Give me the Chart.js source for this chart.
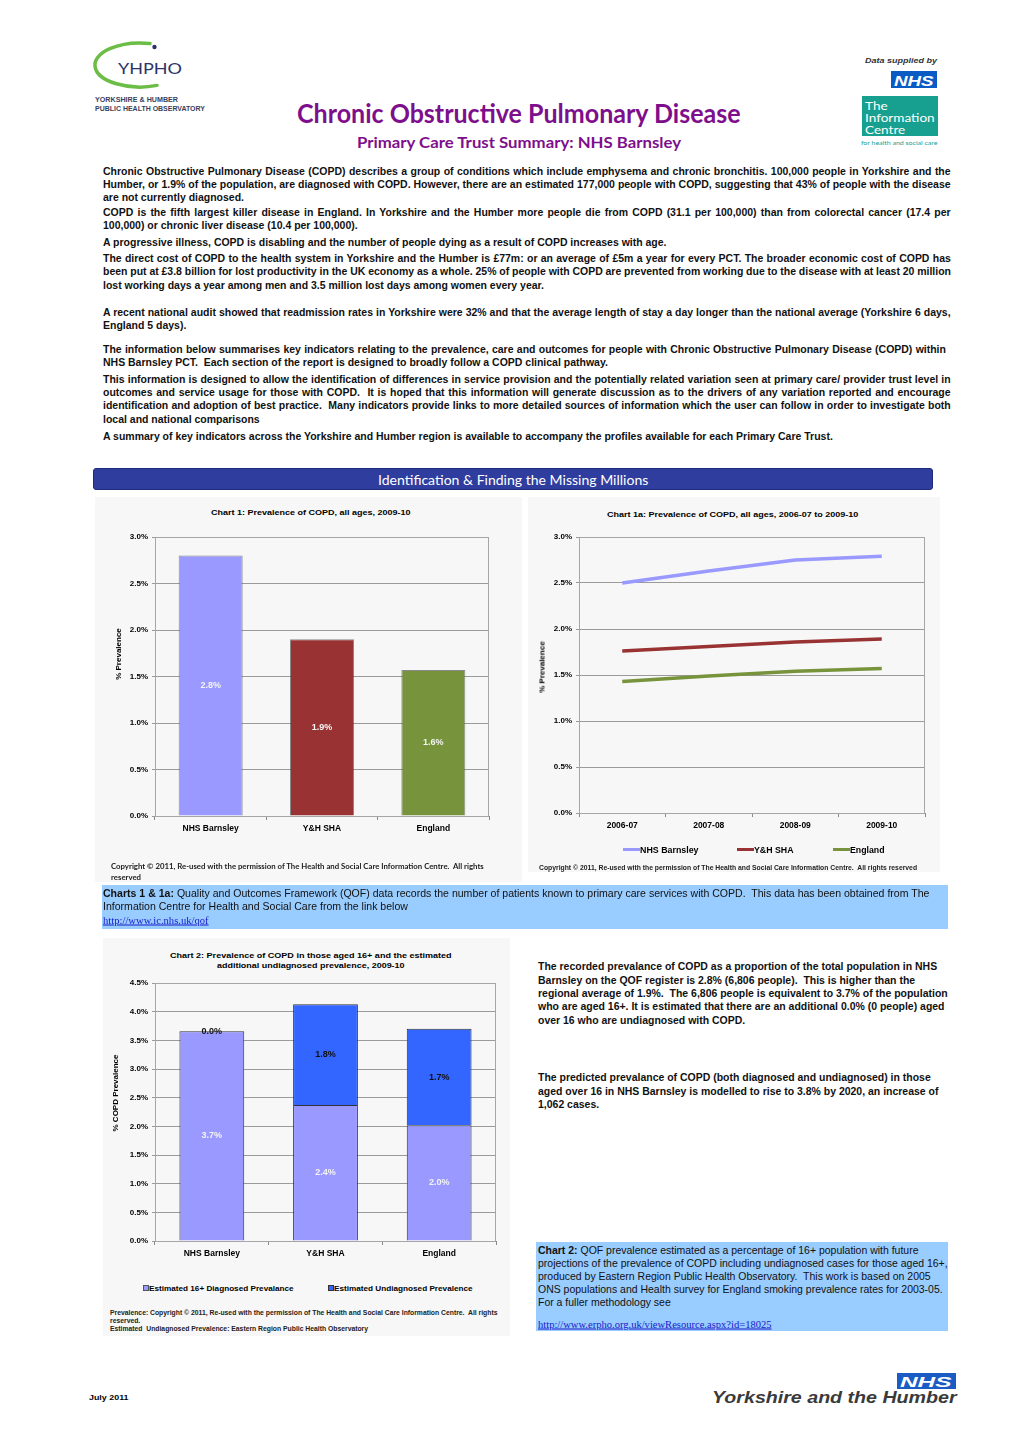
<!DOCTYPE html>
<html><head><meta charset="utf-8"><title>Chronic Obstructive Pulmonary Disease – NHS Barnsley</title>
<script src="https://cdn.jsdelivr.net/npm/chart.js@4.4.1/dist/chart.umd.min.js"></script>
<style>
html,body{margin:0;padding:0;background:#fff}
body{position:relative;width:1020px;height:1442px;overflow:hidden;font-family:"Liberation Sans",Arial,sans-serif;color:#000}
.t{position:absolute;white-space:pre;transform-origin:0 50%;line-height:1}
.r{position:absolute;white-space:pre;line-height:1;font:bold 8px "Liberation Sans",Arial,sans-serif;transform:translate(-50%,-50%) rotate(-90deg)}
.panel{position:absolute;background:#f7f7f7}
canvas{position:absolute}
.box{position:absolute;background:#99CCFF}
.lnk{color:#1a1aCC;text-decoration:underline;font-family:"Liberation Serif","Times New Roman",serif}
.sw{position:absolute}
</style></head><body>

<!-- YHPHO logo -->
<svg style="position:absolute;left:0;top:0" width="230" height="120">
  <path d="M150 43.6 A45 22 0 1 0 157 85.4" fill="none" stroke="#6cbd45" stroke-width="3.5" stroke-linecap="round"/>
  <circle cx="154.5" cy="47" r="2.2" fill="#2b2f6b"/>
  <text x="118" y="74" font-family="Lato, 'Open Sans', sans-serif" font-size="16" fill="#2b3468" textLength="64" lengthAdjust="spacingAndGlyphs">YHPHO</text>
  <text x="95" y="101.5" font-family="'Liberation Sans', Arial, sans-serif" font-weight="bold" font-size="6.3" fill="#3a3f5c" textLength="83" lengthAdjust="spacingAndGlyphs">YORKSHIRE &amp; HUMBER</text>
  <text x="95" y="110.5" font-family="'Liberation Sans', Arial, sans-serif" font-weight="bold" font-size="6.3" fill="#3a3f5c" textLength="110" lengthAdjust="spacingAndGlyphs">PUBLIC HEALTH OBSERVATORY</text>
</svg>

<!-- Information Centre logo -->
<div style="position:absolute;left:891px;top:71px;width:46px;height:17px;background:#0a5bc4"></div>
<div style="position:absolute;left:862px;top:96px;width:76px;height:40px;background:#17a08f"></div>

<!-- header bar -->
<div style="position:absolute;left:93px;top:468px;width:838px;height:20px;background:#2f3d9e;border:1px solid #1f2a78;border-radius:3px"></div>

<!-- chart panels -->
<div class="panel" style="left:95px;top:497px;width:427px;height:385px"></div>
<div class="panel" style="left:528px;top:497px;width:412px;height:375px"></div>
<div class="panel" style="left:103px;top:938px;width:407px;height:398px"></div>

<!-- blue note boxes -->
<div class="box" style="left:102px;top:885px;width:846px;height:44px"></div>
<div class="box" style="left:536px;top:1242px;width:412px;height:89px"></div>

<canvas id="c1" width="399" height="323" style="left:100px;top:527px"></canvas>
<canvas id="c1a" width="411" height="320" style="left:524px;top:527px"></canvas>
<canvas id="c2" width="410" height="302" style="left:96px;top:973px"></canvas>

<!-- axis titles -->
<div class="r" style="left:118px;top:654px">% Prevalence</div>
<div class="r" style="left:542px;top:667px">% Prevalence</div>
<div class="r" style="left:115px;top:1093px">% COPD Prevalence</div>

<!-- legend swatches -->
<div class="sw" style="left:623px;top:848px;width:17px;height:3px;background:#9999FF"></div>
<div class="sw" style="left:737px;top:848px;width:17px;height:3px;background:#993333"></div>
<div class="sw" style="left:833px;top:848px;width:17px;height:3px;background:#77933C"></div>
<div class="sw" style="left:143px;top:1285px;width:4px;height:4px;background:#9999FF;border:1px solid #555"></div>
<div class="sw" style="left:328px;top:1285px;width:4px;height:4px;background:#3366FF;border:1px solid #333"></div>

<!-- bottom NHS logo -->
<div style="position:absolute;left:897px;top:1373px;width:59px;height:16px;background:#1a5bc4"></div>

<script>
// ---------------- DATA ----------------
const chart1Categories = ['NHS Barnsley', 'Y&H SHA', 'England'];
const chart1Prevalence = [2.8, 1.9, 1.57];
const chart1Colours = ['#9999FF', '#993333', '#77933C'];

const chart1aYears = ['2006-07', '2007-08', '2008-09', '2009-10'];
const trendBarnsley = [2.50, 2.63, 2.75, 2.79];
const trendYH = [1.76, 1.81, 1.86, 1.89];
const trendEngland = [1.43, 1.49, 1.54, 1.57];
const trendNames = ['NHS Barnsley', 'Y&H SHA', 'England'];

const chart2Categories = ['NHS Barnsley', 'Y&H SHA', 'England'];
const chart2Diagnosed = [3.66, 2.37, 2.02];
const chart2Undiagnosed = [0.0, 1.76, 1.68];
const chart2Names = ['Estimated 16+ Diagnosed Prevalance', 'Estimated Undiagnosed Prevalence'];

const yMax1 = 3.0, yMax2 = 4.5, yStep = 0.5;

// ---------------- TEXT ----------------
const B = document.body;
function put(x, y, font, html, data, color) {
  const d = document.createElement('div');
  d.className = 't';
  d.style.left = x + 'px'; d.style.top = y + 'px'; d.style.font = font;
  if (color) d.style.color = color;
  d.innerHTML = html;
  if (data) for (const k in data) d.dataset[k] = data[k];
  B.appendChild(d);
  return d;
}
const LS = '"Liberation Sans", Arial, sans-serif';
const LATO = 'Lato, "Open Sans", sans-serif';
const PURPLE = '#7e0f8c';

// header
put(297, 112, 'bold 27px ' + LATO, 'Chronic Obstructive Pulmonary Disease', {w: 444}, PURPLE);
put(357, 141, 'bold 16px ' + LATO, 'Primary Care Trust Summary: NHS Barnsley', {w: 324}, PURPLE);
put(865, 60, 'bold italic 7px ' + LS, 'Data supplied by', {w: 72}, '#333');
put(894, 79.5, 'bold italic 15px ' + LS, 'NHS', {w: 40}, '#fff');
put(865, 105, '12px ' + LATO, 'The', {g: 'ic'}, '#fff');
put(865, 117, '12px ' + LATO, 'Information', {g: 'ic', ref: 70}, '#fff');
put(865, 128.5, '12px ' + LATO, 'Centre', {g: 'ic'}, '#fff');
put(861, 142, '6px ' + LATO, 'for health and social care', {w: 77}, '#17a08f');

// intro body text
const bodyLines = [
  [171, 'Chronic Obstructive Pulmonary Disease (COPD) describes a group of conditions which include emphysema and chronic bronchitis. 100,000 people in Yorkshire and the', 848],
  [184, 'Humber, or 1.9% of the population, are diagnosed with COPD. However, there are an estimated 177,000 people with COPD, suggesting that 43% of people with the disease', 848],
  [197, 'are not currently diagnosed.', 0],
  [212, 'COPD is the fifth largest killer disease in England. In Yorkshire and the Humber more people die from COPD (31.1 per 100,000) than from colorectal cancer (17.4 per', 848],
  [225, '100,000) or chronic liver disease (10.4 per 100,000).', 0],
  [242, 'A progressive illness, COPD is disabling and the number of people dying as a result of COPD increases with age.', 0],
  [258, 'The direct cost of COPD to the health system in Yorkshire and the Humber is £77m: or an average of £5m a year for every PCT. The broader economic cost of COPD has', 848],
  [271, 'been put at £3.8 billion for lost productivity in the UK economy as a whole. 25% of people with COPD are prevented from working due to the disease with at least 20 million', 848],
  [285, 'lost working days a year among men and 3.5 million lost days among women every year.', 0],
  [312, 'A recent national audit showed that readmission rates in Yorkshire were 32% and that the average length of stay a day longer than the national average (Yorkshire 6 days,', 848],
  [325, 'England 5 days).', 0],
  [349, 'The information below summarises key indicators relating to the prevalence, care and outcomes for people with Chronic Obstructive Pulmonary Disease (COPD) within', 843],
  [362, 'NHS Barnsley PCT.  Each section of the report is designed to broadly follow a COPD clinical pathway.', 0],
  [379, 'This information is designed to allow the identification of differences in service provision and the potentially related variation seen at primary care/ provider trust level in', 848],
  [392, 'outcomes and service usage for those with COPD.  It is hoped that this information will generate discussion as to the drivers of any variation reported and encourage', 848],
  [405, 'identification and adoption of best practice.  Many indicators provide links to more detailed sources of information which the user can follow in order to investigate both', 848],
  [419, 'local and national comparisons', 0],
  [436, 'A summary of key indicators across the Yorkshire and Humber region is available to accompany the profiles available for each Primary Care Trust.', -730]
];
bodyLines.forEach(([y, s, w]) => {
  const data = {g: 'body'};
  if (w > 0) data.j = w;
  if (w < 0) data.ref = -w;
  put(103, y, 'bold 11px ' + LS, s.replace(/&/g, '&amp;'), data, '#111');
});

// section header
put(378, 480, '13px ' + LATO, 'Identification &amp; Finding the Missing Millions', {w: 270}, '#fff');

// chart titles / notes
put(211, 512, 'bold 8px ' + LS, 'Chart 1: Prevalence of COPD, all ages, 2009-10', {w: 199});
put(607, 514, 'bold 8px ' + LS, 'Chart 1a: Prevalence of COPD, all ages, 2006-07 to 2009-10', {w: 251});
put(640, 850, 'bold 9px ' + LS, trendNames[0], {w: 59});
put(754, 850, 'bold 9px ' + LS, 'Y&amp;H SHA', {w: 40});
put(850, 850, 'bold 9px ' + LS, trendNames[2], {w: 35});
put(111, 866, 'bold 7.5px ' + LATO, 'Copyright © 2011, Re-used with the permission of The Health and Social Care Information Centre.  All rights', {g: 'cp1', ref: 373}, '#222');
put(111, 877, 'bold 7.5px ' + LATO, 'reserved', {g: 'cp1'}, '#222');
put(539, 867, 'bold 6.5px ' + LS, 'Copyright © 2011, Re-used with the permission of The Health and Social Care Information Centre.  All rights reserved', {w: 378}, '#222');

// box 1
put(103, 893, '11px ' + LS, '<b>Charts 1 &amp; 1a:</b> Quality and Outcomes Framework (QOF) data records the number of patients known to primary care services with COPD.  This data has been obtained from The', {g: 'b1'}, '#111');
put(103, 906, '11px ' + LS, 'Information Centre for Health and Social Care from the link below', {g: 'b1', ref: 305}, '#111');
put(103, 920, '10.5px "Liberation Serif", serif', '<span class="lnk">http://www.ic.nhs.uk/qof</span>', {w: 106});

// chart 2 texts
put(170, 955, 'bold 8px ' + LS, 'Chart 2: Prevalence of COPD in those aged 16+ and the estimated', {w: 282});
put(217, 965, 'bold 8px ' + LS, 'additional undiagnosed prevalence, 2009-10', {w: 188});
put(149, 1288, 'bold 8px ' + LS, chart2Names[0], {w: 145});
put(334, 1288, 'bold 8px ' + LS, chart2Names[1], {w: 139});
put(110, 1312, 'bold 6.5px ' + LS, 'Prevalence: Copyright © 2011, Re-used with the permission of The Health and Social Care Information Centre.  All rights', {g: 'fn', ref: 387}, '#222');
put(110, 1320, 'bold 6.5px ' + LS, 'reserved.', {g: 'fn'}, '#222');
put(110, 1328, 'bold 6.5px ' + LS, 'Estimated  Undiagnosed Prevalence: Eastern Region Public Health Observatory', {g: 'fn'}, '#222');

// right column text
const rcLines = [
  [966, 'The recorded prevalance of COPD as a proportion of the total population in NHS', 399],
  [979.5, 'Barnsley on the QOF register is 2.8% (6,806 people).  This is higher than the', 0],
  [993, 'regional average of 1.9%.  The 6,806 people is equivalent to 3.7% of the population', 0],
  [1006, 'who are aged 16+. It is estimated that there are an additional 0.0% (0 people) aged', 0],
  [1020, 'over 16 who are undiagnosed with COPD.', 0],
  [1077, 'The predicted prevalance of COPD (both diagnosed and undiagnosed) in those', 0],
  [1091, 'aged over 16 in NHS Barnsley is modelled to rise to 3.8% by 2020, an increase of', 0],
  [1104, '1,062 cases.', 0]
];
rcLines.forEach(([y, s, r]) => put(538, y, 'bold 10px ' + LS, s, r ? {g: 'rc', ref: r} : {g: 'rc'}, '#111'));

// box 2
const b2Lines = [
  [1250, '<b>Chart 2:</b> QOF prevalence estimated as a percentage of 16+ population with future', 0],
  [1263, 'projections of the prevalence of COPD including undiagnosed cases for those aged 16+,', 0],
  [1275.5, 'produced by Eastern Region Public Health Observatory.  This work is based on 2005', 0],
  [1288.5, 'ONS populations and Health survey for England smoking prevalence rates for 2003-05.', 405],
  [1302, 'For a fuller methodology see', 0]
];
b2Lines.forEach(([y, s, r]) => put(538, y, '10.5px ' + LS, s, r ? {g: 'b2', ref: r} : {g: 'b2'}, '#111'));
put(538, 1324, '10.5px "Liberation Serif", serif', '<span class="lnk">http://www.erpho.org.uk/viewResource.aspx?id=18025</span>', {w: 234});

// footer
put(89, 1397, 'bold 8px ' + LS, 'July 2011', {w: 40});
put(900, 1381, 'bold italic 15px ' + LS, 'NHS', {w: 52}, '#fff');
put(712, 1398, 'bold italic 16px ' + LS, 'Yorkshire and the Humber', {w: 244}, '#3a3a3a');

// fit text widths
(function layout() {
  const els = [...document.querySelectorAll('.t')];
  const nat = new Map(els.map(e => [e, e.offsetWidth]));
  const gs = {};
  els.forEach(e => { if (e.dataset.ref) gs[e.dataset.g] = parseFloat(e.dataset.ref) / nat.get(e); });
  els.forEach(e => {
    let s = 1;
    if (e.dataset.w) s = parseFloat(e.dataset.w) / nat.get(e);
    else if (e.dataset.g && gs[e.dataset.g]) s = gs[e.dataset.g];
    if (e.dataset.j) {
      const W = parseFloat(e.dataset.j);
      const n = (e.textContent.match(/ /g) || []).length;
      if (n) e.style.wordSpacing = ((W / s - nat.get(e)) / n) + 'px';
    }
    e.style.transform = 'translateY(-50%) scaleX(' + s + ')';
  });
})();

// ---------------- CHARTS ----------------
Chart.defaults.font.family = LS;
Chart.defaults.color = '#000';

const frame = {
  id: 'frame',
  beforeDatasetsDraw(chart) {
    const {ctx, chartArea: a} = chart;
    ctx.save();
    ctx.strokeStyle = '#a6a6a6'; ctx.lineWidth = 1;
    ctx.strokeRect(Math.round(a.left) + 0.5, Math.round(a.top) + 0.5, Math.round(a.right - a.left) - 1, Math.round(a.bottom - a.top));
    ctx.restore();
  }
};
function valueLabels(colours) {
  return {
    id: 'valueLabels',
    afterDatasetsDraw(chart) {
      const ctx = chart.ctx;
      chart.data.datasets.forEach((ds, i) => {
        const meta = chart.getDatasetMeta(i);
        meta.data.forEach((el, j) => {
          const v = ds.data[j];
          ctx.save();
          ctx.fillStyle = colours[i];
          ctx.font = 'bold 9px ' + LS;
          ctx.textAlign = 'center'; ctx.textBaseline = 'middle';
          ctx.fillText(v.toFixed(1) + '%', el.x, (el.y + el.base) / 2);
          ctx.restore();
        });
      });
    }
  };
}
function yScale(max, width) {
  return {
    min: 0, max: max,
    ticks: {stepSize: yStep, callback: v => v.toFixed(1) + '%', font: {size: 8, weight: 'bold'}, color: '#000', padding: 4},
    grid: {color: '#9a9a9a', lineWidth: 1, tickLength: 3, drawTicks: true},
    border: {color: '#8a8a8a', width: 1},
    title: {display: false},
    afterFit(s) { s.width = width; }
  };
}
function xScale(stacked) {
  return {
    offset: true, stacked: !!stacked,
    ticks: {font: {size: 8.5, weight: 'bold'}, color: '#000', padding: 4, maxRotation: 0, autoSkip: false},
    grid: {offset: true, drawOnChartArea: false, drawTicks: true, tickLength: 4, color: '#8a8a8a'},
    border: {color: '#8a8a8a'},
    afterFit(s) { s.height = 30; }
  };
}
const common = {
  responsive: false, animation: false, devicePixelRatio: 1,
  layout: {padding: {left: 10, right: 10, top: 10, bottom: 4}},
  plugins: {legend: {display: false}, tooltip: {enabled: false}, title: {display: false}}
};

new Chart(document.getElementById('c1'), {
  type: 'bar',
  data: {labels: chart1Categories, datasets: [{
    label: '% Prevalence', data: chart1Prevalence, backgroundColor: chart1Colours,
    borderColor: 'rgba(50,50,50,0.55)', borderWidth: 1, categoryPercentage: 0.575, barPercentage: 1
  }]},
  options: Object.assign({}, common, {scales: {x: xScale(), y: yScale(yMax1, 45)}}),
  plugins: [frame, valueLabels(['#f4f4f4'])]
});

const lineSets = [trendBarnsley, trendYH, trendEngland];
new Chart(document.getElementById('c1a'), {
  type: 'line',
  data: {labels: chart1aYears, datasets: lineSets.map((d, i) => ({
    label: trendNames[i], data: d, borderColor: chart1Colours[i], backgroundColor: chart1Colours[i],
    borderWidth: 3.5, pointRadius: 0, fill: false, tension: 0
  }))},
  options: Object.assign({}, common, {scales: {x: xScale(), y: yScale(yMax1, 45)}}),
  plugins: [frame]
});

new Chart(document.getElementById('c2'), {
  type: 'bar',
  data: {labels: chart2Categories, datasets: [
    {label: chart2Names[0], data: chart2Diagnosed, backgroundColor: '#9999FF', borderColor: '#333', borderWidth: 1, categoryPercentage: 0.57, barPercentage: 1},
    {label: chart2Names[1], data: chart2Undiagnosed, backgroundColor: '#3366FF', borderColor: '#333', borderWidth: 1, categoryPercentage: 0.57, barPercentage: 1}
  ]},
  options: Object.assign({}, common, {scales: {x: xScale(true), y: Object.assign(yScale(yMax2, 49), {stacked: true})}}),
  plugins: [frame, valueLabels(['#f4f4f4', '#111'])]
});
</script>
</body></html>
